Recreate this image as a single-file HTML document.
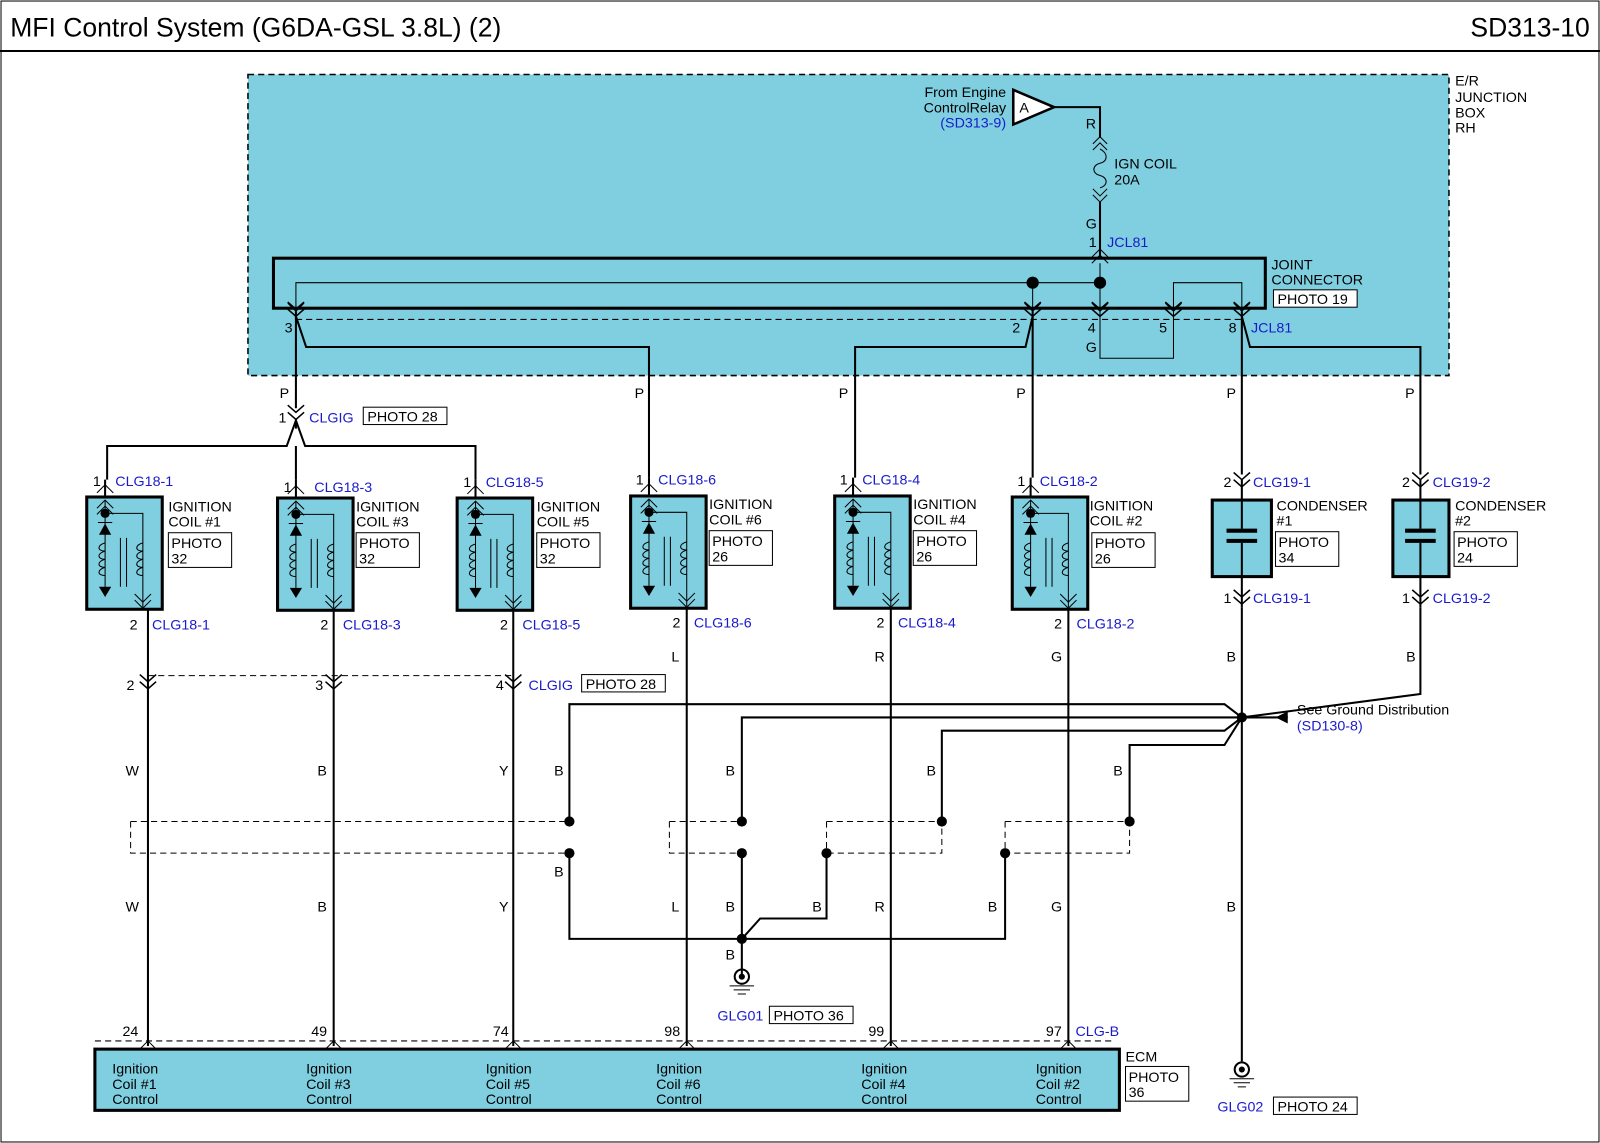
<!DOCTYPE html>
<html><head><meta charset="utf-8"><style>
html,body{margin:0;padding:0;background:#fff}
svg{display:block}
text{font-family:"Liberation Sans",Arial,sans-serif;font-size:14px;fill:#000}
.b{fill:#1a1acc}
.w{stroke:#000;stroke-width:2;fill:none}
.t{stroke:#000;stroke-width:1;fill:none}
.d{stroke:#000;stroke-width:1;fill:none;stroke-dasharray:6 4}
.bx{fill:#fff;stroke:#000;stroke-width:1}
</style></head><body>
<svg width="1600" height="1143" viewBox="0 0 1568 1120" preserveAspectRatio="none" xmlns="http://www.w3.org/2000/svg">
<defs>
<g id="ch"><path d="M-8,-7 L0,0 L8,-7 M-8,0 L0,7 L8,0" stroke="#000" stroke-width="1.5" fill="none"/></g>
<g id="coil">
<rect x="-18" y="0" width="74" height="110" fill="#7fcfe0" stroke="#000" stroke-width="3"/>
<path d="M-8,11 L0,3 L8,11 M-8,17 L0,9 L8,17" class="t" stroke-width="1.5"/>
<path d="M0,3 V88" class="t" stroke-width="1.5"/>
<circle cx="0" cy="16" r="4.5" fill="#000"/>
<path d="M0,16 H37 V108" class="t" stroke-width="1.5"/>
<path d="M29,95 L37,103 L45,95 M29,101 L37,109 L45,101" class="t" stroke-width="1.5"/>
<path d="M-6,37 L6,37 L0,26 Z" fill="#000"/><path d="M-7,25 H7" class="t" stroke-width="2"/>
<path d="M-6,88 L6,88 L0,98 Z" fill="#000"/>
<path d="M0,45 c-8,2 -8,8 0,8 c-8,2 -8,8 0,8 c-8,2 -8,8 0,8 c-8,2 -8,8 0,8" class="t"/>
<path d="M37,45 c-8,2 -8,8 0,8 c-8,2 -8,8 0,8 c-8,2 -8,8 0,8 c-8,2 -8,8 0,8" class="t"/>
<path d="M15,40 V88 M21,40 V88" class="t"/>
</g>
<g id="gnd"><circle cx="0" cy="0" r="7" fill="none" stroke="#000" stroke-width="2"/><circle cx="0" cy="0" r="3" fill="#000"/><path d="M-12,9 H12 M-8,13 H8 M-4,17 H4" class="t" stroke-width="2"/></g>
</defs>
<rect x="1" y="1" width="1566" height="1118" fill="none" stroke="#000" stroke-width="1"/>
<text x="10" y="36" style="font-size:26px">MFI Control System (G6DA-GSL 3.8L) (2)</text>
<text x="1558" y="36" text-anchor="end" style="font-size:26px">SD313-10</text>
<path d="M0,50 H1568" stroke="#000" stroke-width="2"/>

<rect x="243" y="73" width="1177" height="295" fill="#7fcfe0" stroke="#000" stroke-width="1.5" stroke-dasharray="6 4"/>
<text x="1426" y="84">E/R</text><text x="1426" y="100">JUNCTION</text><text x="1426" y="115">BOX</text><text x="1426" y="130">RH</text>
<path d="M993,88 L1033,105 L993,122 Z" fill="#fff" stroke="#000" stroke-width="2.5"/>
<text x="999" y="110">A</text>
<text x="986" y="95" text-anchor="end">From Engine</text>
<text x="986" y="110" text-anchor="end">ControlRelay</text>
<text x="986" y="125" text-anchor="end" class="b">(SD313-9)</text>
<path d="M1033,105 H1078 V135" class="w"/>
<text x="1064" y="126">R</text>
<path d="M1071,141 L1078,134 L1085,141 M1071,147 L1078,140 L1085,147" class="t" stroke-width="1.5"/>
<path d="M1078,146 c8,4 8,12 0,14 c-8,2 -8,10 0,12 c8,2 8,10 0,12" class="t" stroke-width="1.5"/>
<path d="M1071,185 L1078,192 L1085,185 M1071,191 L1078,198 L1085,191" class="t" stroke-width="1.5"/>
<path d="M1078,198 V253" class="w"/>
<text x="1092" y="165">IGN COIL</text><text x="1092" y="181">20A</text>
<text x="1064" y="224">G</text>
<text x="1067" y="242">1</text><text x="1085" y="242" class="b">JCL81</text>
<path d="M1070,252 L1078,244 L1086,252 M1070,258 L1078,250 L1086,258" class="t" stroke-width="1.5"/>
<rect x="268" y="253" width="972" height="49" fill="none" stroke="#000" stroke-width="3"/>
<path d="M290,305 V277 H1078 M1012,277 V305 M1078,258 V305 M1150,305 V277 H1217 V305" class="t" stroke-width="1.5"/>
<circle cx="1012" cy="277" r="6" fill="#000"/><circle cx="1078" cy="277" r="6" fill="#000"/>
<g><use href="#ch" x="290" y="303"/><use href="#ch" x="1012" y="303"/><use href="#ch" x="1078" y="303"/><use href="#ch" x="1150" y="303"/><use href="#ch" x="1217" y="303"/></g>
<path d="M282,297 L290,305 L298,297 M1004,297 L1012,305 L1020,297 M1070,297 L1078,305 L1086,297 M1142,297 L1150,305 L1158,297 M1209,297 L1217,305 L1225,297" class="t" stroke-width="1.5"/>
<path d="M290,313 H1217" class="d"/>
<text x="1246" y="264">JOINT</text><text x="1246" y="279">CONNECTOR</text>
<rect x="1248" y="284" width="82" height="17" class="bx"/><text x="1252" y="298">PHOTO 19</text>
<text x="279" y="326">3</text><text x="992" y="326">2</text><text x="1066" y="326">4</text><text x="1136" y="326">5</text><text x="1204" y="326">8</text>
<text x="1226" y="326" class="b">JCL81</text>
<text x="1064" y="345">G</text>
<path d="M1078,305 V351 H1150 V305" class="t" stroke-width="1.5"/>
<path d="M290,305 V400 M290,310 L300,340 H636 V468 M1012,305 V468 M1012,310 L1005,340 H838 V468 M1217,305 V465 M1217,310 L1225,340 H1392 V465" class="w"/>
<text x="274" y="390">P</text><text x="622" y="390">P</text><text x="822" y="390">P</text><text x="996" y="390">P</text><text x="1202" y="390">P</text><text x="1377" y="390">P</text>
<use href="#ch" x="290" y="404"/>
<text x="273" y="414">1</text><text x="303" y="414" class="b">CLGIG</text>
<rect x="356" y="399" width="82" height="17" class="bx"/><text x="360" y="413">PHOTO 28</text>
<path d="M290,410 V420 M290,412 L281,437 H105 V470 M290,412 L299,437 H466 V470 M290,437 V470" class="w"/>
<use href="#coil" x="103" y="487"/><use href="#coil" x="290" y="488"/><use href="#coil" x="466" y="488"/>
<use href="#coil" x="636" y="486"/><use href="#coil" x="836" y="486"/><use href="#coil" x="1010" y="487"/>
<path d="M103,470 V487 M290,470 V488 M466,470 V488 M636,468 V486 M836,468 V486 M1010,468 V487" class="w"/>
<path d="M95,483 L103,475 L111,483 M282,484 L290,476 L298,484 M458,484 L466,476 L474,484 M628,482 L636,474 L644,482 M828,482 L836,474 L844,482 M1002,483 L1010,475 L1018,483" class="t" stroke-width="1.5"/>
<text x="91" y="476">1</text><text x="113" y="476" class="b">CLG18-1</text>
<text x="278" y="482">1</text><text x="308" y="482" class="b">CLG18-3</text>
<text x="454" y="477">1</text><text x="476" y="477" class="b">CLG18-5</text>
<text x="623" y="475">1</text><text x="645" y="475" class="b">CLG18-6</text>
<text x="823" y="475">1</text><text x="845" y="475" class="b">CLG18-4</text>
<text x="997" y="476">1</text><text x="1019" y="476" class="b">CLG18-2</text>
<text x="165" y="501">IGNITION</text><text x="165" y="516">COIL #1</text><rect x="165" y="522" width="62" height="34" class="bx"/><text x="168" y="537">PHOTO</text><text x="168" y="552">32</text>
<text x="349" y="501">IGNITION</text><text x="349" y="516">COIL #3</text><rect x="349" y="522" width="62" height="34" class="bx"/><text x="352" y="537">PHOTO</text><text x="352" y="552">32</text>
<text x="526" y="501">IGNITION</text><text x="526" y="516">COIL #5</text><rect x="526" y="522" width="62" height="34" class="bx"/><text x="529" y="537">PHOTO</text><text x="529" y="552">32</text>
<text x="695" y="499">IGNITION</text><text x="695" y="514">COIL #6</text><rect x="695" y="520" width="62" height="34" class="bx"/><text x="698" y="535">PHOTO</text><text x="698" y="550">26</text>
<text x="895" y="499">IGNITION</text><text x="895" y="514">COIL #4</text><rect x="895" y="520" width="62" height="34" class="bx"/><text x="898" y="535">PHOTO</text><text x="898" y="550">26</text>
<text x="1068" y="500">IGNITION</text><text x="1068" y="515">COIL #2</text><rect x="1070" y="522" width="62" height="34" class="bx"/><text x="1073" y="537">PHOTO</text><text x="1073" y="552">26</text>
<rect x="1188" y="490" width="58" height="75" fill="#7fcfe0" stroke="#000" stroke-width="3"/>
<rect x="1365" y="490" width="55" height="75" fill="#7fcfe0" stroke="#000" stroke-width="3"/>
<path d="M1217,470 V518 M1217,532 V595 M1392,470 V518 M1392,532 V595" class="w"/>
<path d="M1202,520 H1232 M1202,530 H1232 M1377,520 H1407 M1377,530 H1407" stroke="#000" stroke-width="4"/>
<use href="#ch" x="1217" y="470"/><use href="#ch" x="1392" y="470"/>
<use href="#ch" x="1217" y="585"/><use href="#ch" x="1392" y="585"/>
<text x="1199" y="477">2</text><text x="1228" y="477" class="b">CLG19-1</text>
<text x="1374" y="477">2</text><text x="1404" y="477" class="b">CLG19-2</text>
<text x="1199" y="591">1</text><text x="1228" y="591" class="b">CLG19-1</text>
<text x="1374" y="591">1</text><text x="1404" y="591" class="b">CLG19-2</text>
<text x="1251" y="500">CONDENSER</text><text x="1251" y="515">#1</text><rect x="1250" y="521" width="62" height="34" class="bx"/><text x="1253" y="536">PHOTO</text><text x="1253" y="551">34</text>
<text x="1426" y="500">CONDENSER</text><text x="1426" y="515">#2</text><rect x="1425" y="521" width="62" height="34" class="bx"/><text x="1428" y="536">PHOTO</text><text x="1428" y="551">24</text>
<path d="M145,597 V1025 M327,598 V1025 M503,598 V1025 M673,596 V1025 M873,596 V1025 M1047,597 V1025" class="w"/>
<text x="127" y="617">2</text><text x="149" y="617" class="b">CLG18-1</text>
<text x="314" y="617">2</text><text x="336" y="617" class="b">CLG18-3</text>
<text x="490" y="617">2</text><text x="512" y="617" class="b">CLG18-5</text>
<text x="659" y="615">2</text><text x="680" y="615" class="b">CLG18-6</text>
<text x="859" y="615">2</text><text x="880" y="615" class="b">CLG18-4</text>
<text x="1033" y="616">2</text><text x="1055" y="616" class="b">CLG18-2</text>
<use href="#ch" x="145" y="668"/><use href="#ch" x="327" y="668"/><use href="#ch" x="503" y="668"/>
<path d="M145,662 H503" class="d"/>
<text x="124" y="676">2</text><text x="309" y="676">3</text><text x="486" y="676">4</text>
<text x="518" y="676" class="b">CLGIG</text><rect x="570" y="661" width="82" height="17" class="bx"/><text x="574" y="675">PHOTO 28</text>
<text x="658" y="648">L</text><text x="857" y="648">R</text><text x="1030" y="648">G</text>
<text x="1202" y="648">B</text><text x="1378" y="648">B</text>
<text x="123" y="760">W</text><text x="311" y="760">B</text><text x="489" y="760">Y</text>
<text x="123" y="893">W</text><text x="311" y="893">B</text><text x="489" y="893">Y</text>
<text x="658" y="893">L</text><text x="857" y="893">R</text><text x="1030" y="893">G</text><text x="1202" y="893">B</text>
<path d="M1217,595 V1040 M1392,595 V680 L1217,703" class="w"/>
<path d="M558,805 V690 H1200 L1217,703 M727,805 V703 H1217 M923,805 V716 H1200 L1217,703 M1107,805 V730 H1200 L1217,703" class="w"/>
<circle cx="1217" cy="703" r="5" fill="#000"/>
<path d="M1217,703 H1262" class="w"/><path d="M1262,697 L1250,703 L1262,709 Z" fill="#000"/>
<text x="1271" y="700">See Ground Distribution</text><text x="1271" y="716" class="b">(SD130-8)</text>
<text x="543" y="760">B</text><text x="711" y="760">B</text><text x="908" y="760">B</text><text x="1091" y="760">B</text>
<path d="M128,805 H558 M128,805 V836 H558 M656,805 H727 M656,805 V836 H727 M810,805 H923 V836 H810 M810,805 V836 M985,805 H1107 V836 H985 M985,805 V836" class="d"/>
<path d="M558,836 V920 H985 V836 M727,836 V955 M810,836 V900 H745 L727,920" class="w"/>
<circle cx="558" cy="805" r="5" fill="#000"/><circle cx="727" cy="805" r="5" fill="#000"/><circle cx="923" cy="805" r="5" fill="#000"/><circle cx="1107" cy="805" r="5" fill="#000"/>
<circle cx="558" cy="836" r="5" fill="#000"/><circle cx="727" cy="836" r="5" fill="#000"/><circle cx="810" cy="836" r="5" fill="#000"/><circle cx="985" cy="836" r="5" fill="#000"/>
<circle cx="727" cy="920" r="5" fill="#000"/>
<text x="543" y="859">B</text><text x="711" y="893">B</text><text x="796" y="893">B</text><text x="968" y="893">B</text>
<text x="711" y="940">B</text>
<use href="#gnd" x="727" y="957"/>
<text x="703" y="1000" class="b">GLG01</text><rect x="754" y="986" width="82" height="17" class="bx"/><text x="758" y="1000">PHOTO 36</text>
<use href="#gnd" x="1217" y="1048"/>
<text x="1193" y="1089" class="b">GLG02</text><rect x="1248" y="1075" width="82" height="17" class="bx"/><text x="1252" y="1089">PHOTO 24</text>
<path d="M93,1020 H1090" class="d"/>
<rect x="93" y="1028" width="1004" height="60" fill="#7fcfe0" stroke="#000" stroke-width="3"/>
<path d="M137,1028 L145,1020 L153,1028 M319,1028 L327,1020 L335,1028 M495,1028 L503,1020 L511,1028 M665,1028 L673,1020 L681,1028 M865,1028 L873,1020 L881,1028 M1039,1028 L1047,1020 L1055,1028" class="t" stroke-width="1.5"/>
<text x="120" y="1015">24</text><text x="305" y="1015">49</text><text x="483" y="1015">74</text><text x="651" y="1015">98</text><text x="851" y="1015">99</text><text x="1025" y="1015">97</text>
<text x="1054" y="1015" class="b">CLG-B</text>
<text x="110" y="1052">Ignition</text><text x="110" y="1067">Coil #1</text><text x="110" y="1082">Control</text>
<text x="300" y="1052">Ignition</text><text x="300" y="1067">Coil #3</text><text x="300" y="1082">Control</text>
<text x="476" y="1052">Ignition</text><text x="476" y="1067">Coil #5</text><text x="476" y="1082">Control</text>
<text x="643" y="1052">Ignition</text><text x="643" y="1067">Coil #6</text><text x="643" y="1082">Control</text>
<text x="844" y="1052">Ignition</text><text x="844" y="1067">Coil #4</text><text x="844" y="1082">Control</text>
<text x="1015" y="1052">Ignition</text><text x="1015" y="1067">Coil #2</text><text x="1015" y="1082">Control</text>
<text x="1103" y="1040">ECM</text>
<rect x="1103" y="1045" width="62" height="34" class="bx"/><text x="1106" y="1060">PHOTO</text><text x="1106" y="1075">36</text>
</svg>
</body></html>
